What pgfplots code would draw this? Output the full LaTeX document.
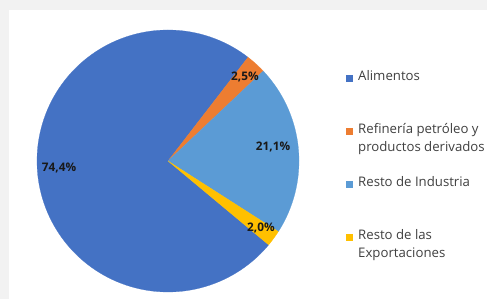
\documentclass[border=0pt]{standalone}
\usepackage{fontspec}
\setmainfont{Open Sans}
\usepackage{pgfplots}
\usepackage{pgfplotstable}
\pgfplotsset{compat=1.18}
\definecolor{cA}{HTML}{4472C4}
\definecolor{cB}{HTML}{ED7D31}
\definecolor{cC}{HTML}{5B9BD5}
\definecolor{cD}{HTML}{FFC000}
\definecolor{bggray}{HTML}{F2F2F2}
\definecolor{legtext}{HTML}{404040}
\pgfplotstableread{
name value
Alimentos 74.4
Refineria 2.5
Industria 21.1
Exportaciones 2.0
}\piedata
\begin{document}
\begin{tikzpicture}
\pgfplotstablegetelem{0}{value}\of\piedata \let\vA\pgfplotsretval
\pgfplotstablegetelem{1}{value}\of\piedata \let\vB\pgfplotsretval
\pgfplotstablegetelem{2}{value}\of\piedata \let\vC\pgfplotsretval
\pgfplotstablegetelem{3}{value}\of\piedata \let\vD\pgfplotsretval
% start angle of first slice, slices run clockwise
\pgfmathsetmacro{\sA}{-39.8}
\pgfmathsetmacro{\eA}{\sA-3.6*\vA}
\pgfmathsetmacro{\eB}{\eA-3.6*\vB}
\pgfmathsetmacro{\eC}{\eB-3.6*\vC}
\pgfmathsetmacro{\eD}{\eC-3.6*\vD}
\begin{axis}[
  x=1pt, y=1pt, xmin=0, xmax=487, ymin=0, ymax=299,
  hide axis, clip=false, scale only axis,
]
\fill[bggray] (axis cs:0,0) rectangle (axis cs:487,299);
\fill[white] (axis cs:9,0) rectangle (axis cs:487,289);
\addplot[fill=cA, draw=cA, line width=0.2pt, domain=\sA:\eA, samples=200] ({168+131*cos(x)},{138+131*sin(x)}) -- (axis cs:168,138) -- cycle;
\addplot[fill=cB, draw=cB, line width=0.2pt, domain=\eA:\eB, samples=20] ({168+131*cos(x)},{138+131*sin(x)}) -- (axis cs:168,138) -- cycle;
\addplot[fill=cC, draw=cC, line width=0.2pt, domain=\eB:\eC, samples=80] ({168+131*cos(x)},{138+131*sin(x)}) -- (axis cs:168,138) -- cycle;
\addplot[fill=cD, draw=cD, line width=0.2pt, domain=\eC:\eD, samples=20] ({168+131*cos(x)},{138+131*sin(x)}) -- (axis cs:168,138) -- cycle;
% data labels
\begin{scope}[every node/.style={font=\bfseries\fontsize{11.8}{14}\selectfont, text=black!90, inner sep=0pt}]
\node at (axis cs:59,131) {74,4\%};
\node at (axis cs:245,222) {2,5\%};
\node at (axis cs:273,152) {21,1\%};
\node at (axis cs:261,71) {2,0\%};
\end{scope}
% legend
\begin{scope}[every node/.style={font=\fontsize{13.2}{15}\selectfont, text=legtext, inner sep=0pt, anchor=base west}]
\fill[cA] (axis cs:346,217) rectangle (axis cs:353,224);
\node at (axis cs:358,218) {Alimentos};
\fill[cB] (axis cs:346,164) rectangle (axis cs:353,171);
\node at (axis cs:358,165) {Refinería petróleo y};
\node at (axis cs:358,147) {productos derivados};
\fill[cC] (axis cs:346,111) rectangle (axis cs:353,118);
\node at (axis cs:358,112) {Resto de Industria};
\fill[cD] (axis cs:346,58) rectangle (axis cs:353,65);
\node at (axis cs:358,59) {Resto de las};
\node at (axis cs:358,41) {Exportaciones};
\end{scope}
\end{axis}
\end{tikzpicture}
\end{document}
